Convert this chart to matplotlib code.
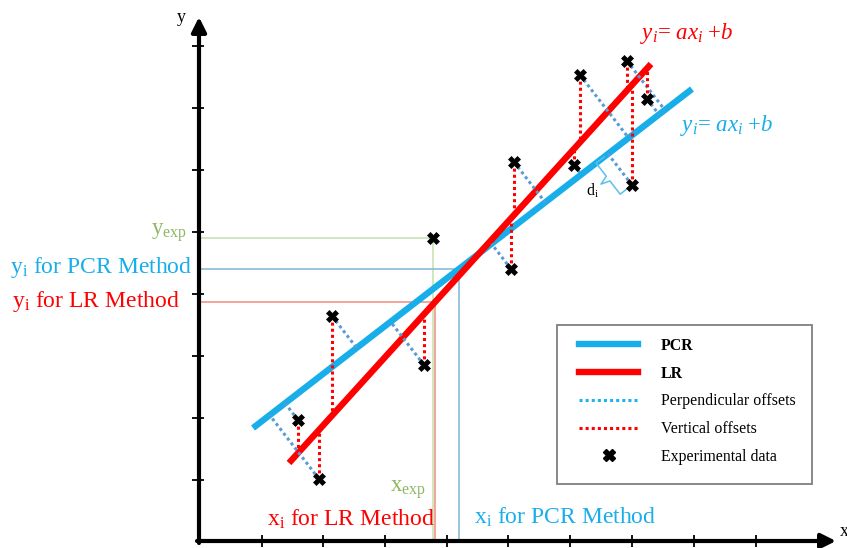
import numpy as np
import matplotlib
matplotlib.use("Agg")
import matplotlib.pyplot as plt
from matplotlib.lines import Line2D
from matplotlib.patches import Rectangle

# --- schematic values (drawing units = pixels of the 847x548 canvas, y downwards) ---
pts_x = [298, 319, 332, 424, 433, 514, 511, 580, 574, 627, 632, 647]
pts_y = [420, 479, 316, 365, 238, 162, 269, 75, 165, 61, 185, 99]
has_offsets = [1, 1, 1, 1, 0, 1, 1, 1, 1, 1, 1, 1]

pcr_x = [253, 692]
pcr_y = [428, 89]
lr_x = [289, 651]
lr_y = [463, 64]

x_exp = 433
y_exp = 238
xi_lr = 435
xi_pcr = 459
brace_point = 10  # index of the point whose perpendicular offset is marked d_i

x_ticks = [262, 323, 385, 447, 508, 570, 632, 694, 756, 818]
y_ticks = [46, 108, 170, 232, 294, 356, 418, 480]
origin = (199, 541)

# --- colours ---
c_pcr = "#18AEEA"
c_lr = "#FF0000"
c_perp = "#5B9BD5"
c_green = "#8DB863"

plt.rcParams["font.family"] = ["Liberation Serif", "DejaVu Serif"]
plt.rcParams["mathtext.fontset"] = "custom"
plt.rcParams["mathtext.rm"] = "Liberation Serif"
plt.rcParams["mathtext.it"] = "Liberation Serif:italic"

fig = plt.figure(figsize=(8.47, 5.48), dpi=100)
ax = fig.add_axes([0, 0, 1, 1])
ax.set_xlim(0, 847)
ax.set_ylim(548, 0)
ax.axis("off")


def line_at(lx, ly, x):
    return np.interp(x, lx, ly) if lx[0] < lx[1] else np.interp(x, lx[::-1], ly[::-1])


def foot(lx, ly, px, py):
    p0 = np.array([lx[0], ly[0]], float)
    u = np.array([lx[1] - lx[0], ly[1] - ly[0]], float)
    u /= np.linalg.norm(u)
    t = np.dot(np.array([px, py]) - p0, u)
    return p0 + t * u


# --- axes with arrows ---
ox, oy = origin
ax.annotate("", xy=(ox, 17), xytext=(ox, oy + 2),
            arrowprops=dict(arrowstyle="-|>", lw=3, color="black", mutation_scale=22,
                            shrinkA=0, shrinkB=0))
ax.annotate("", xy=(836, oy), xytext=(ox - 2, oy),
            arrowprops=dict(arrowstyle="-|>", lw=3, color="black", mutation_scale=22,
                            shrinkA=0, shrinkB=0))
ax.vlines(x_ticks, oy - 6, oy + 6, color="black", lw=1.3)
ax.hlines(y_ticks, ox - 7, ox + 5, color="black", lw=1.3)
ax.text(181, 17, "y", fontsize=13, ha="center", va="center")
ax.text(844, 531, "x", fontsize=13, ha="center", va="center")

# --- projection guide lines ---
yi_lr = line_at(lr_x, lr_y, xi_lr)
yi_pcr = line_at(pcr_x, pcr_y, xi_pcr)
ax.plot([ox, x_exp, x_exp], [y_exp, y_exp, oy], color="#C9E2B3", lw=1.2, zorder=1)
ax.plot([ox, xi_lr, xi_lr], [yi_lr, yi_lr, oy], color="#F08C7C", lw=1.1, zorder=1)
ax.plot([ox, xi_pcr, xi_pcr], [yi_pcr, yi_pcr, oy], color="#7FB7D6", lw=1.1, zorder=1)

# --- fitted lines ---
ax.plot(pcr_x, pcr_y, color=c_pcr, lw=4.6, solid_capstyle="butt", zorder=2)
ax.plot(lr_x, lr_y, color=c_lr, lw=4.6, solid_capstyle="butt", zorder=2)

# --- offsets ---
dots = (0, (1, 1))
for px, py, flag in zip(pts_x, pts_y, has_offsets):
    if not flag:
        continue
    ax.plot([px, px], [py, line_at(lr_x, lr_y, px)], color=c_lr, lw=2.2,
            linestyle=dots, zorder=3)
    f = foot(pcr_x, pcr_y, px, py)
    ax.plot([px, f[0]], [py, f[1]], color=c_perp, lw=2.2, linestyle=dots, zorder=3)

ax.plot(pts_x, pts_y, linestyle="none", marker="X", color="black", markersize=8.5,
        markeredgewidth=0.5, zorder=5)

# --- d_i brace ---
bx, by = pts_x[brace_point], pts_y[brace_point]
a = foot(pcr_x, pcr_y, bx, by)
b = np.array([bx, by], float)
u = (b - a) / np.linalg.norm(b - a)
n = np.array([-u[1], u[0]])
if n[0] > 0:
    n = -n
m = (a + b) / 2
brace = [a + n * 5, a + n * 15, m - u * 3 + n * 15, m + n * 24,
         m + u * 3 + n * 15, b + n * 15, b + n * 5]
brace = np.array(brace)
ax.plot(brace[:, 0], brace[:, 1], color="#5BC0EB", lw=1.1, zorder=3)
ax.text(*(m + n * 35), r"d$_\mathrm{i}$", fontsize=11.5, ha="center", va="center")

# --- labels ---
ax.text(640, 33, r"$y_i$= $ax_i$ +$b$", color=c_lr, fontsize=16.5, va="center")
ax.text(680, 125, r"$y_i$= $ax_i$ +$b$", color=c_pcr, fontsize=16.5, va="center")

ax.text(187, 233, r"y$_\mathrm{exp}$", color=c_green, fontsize=16.5, ha="right", va="center")
ax.text(10, 268, r"y$_\mathrm{i}$ for PCR Method", color=c_pcr, fontsize=17, va="center")
ax.text(12, 301, r"y$_\mathrm{i}$ for LR Method", color=c_lr, fontsize=17, va="center")
ax.text(390, 490, r"x$_\mathrm{exp}$", color=c_green, fontsize=16.5, va="center")
ax.text(267, 519, r"x$_\mathrm{i}$ for LR Method", color=c_lr, fontsize=17, va="center")
ax.text(474, 517, r"x$_\mathrm{i}$ for PCR Method", color=c_pcr, fontsize=17, va="center")

# --- legend (frame drawn separately) ---
ax.add_patch(Rectangle((557, 325), 255, 159, fill=False, edgecolor="#7F7F7F", lw=1.3,
                       zorder=4))
handles = [
    Line2D([], [], color=c_pcr, lw=4.6),
    Line2D([], [], color=c_lr, lw=4.6),
    Line2D([], [], color="#1FB4F0", lw=2.2, linestyle=dots),
    Line2D([], [], color=c_lr, lw=2.2, linestyle=dots),
    Line2D([], [], color="black", marker="X", linestyle="none", markersize=8.5),
]
labels = ["PCR", "LR", "Perpendicular offsets", "Vertical offsets", "Experimental data"]
leg = ax.legend(handles, labels, loc="upper left", bbox_to_anchor=(579, 338),
                bbox_transform=ax.transData, borderaxespad=0, borderpad=0,
                fontsize=11.4, frameon=False, labelspacing=0.74,
                handlelength=3.75, handletextpad=1.4)
for t in leg.get_texts()[:2]:
    t.set_fontweight("bold")

fig.savefig("out.png", dpi=100)
